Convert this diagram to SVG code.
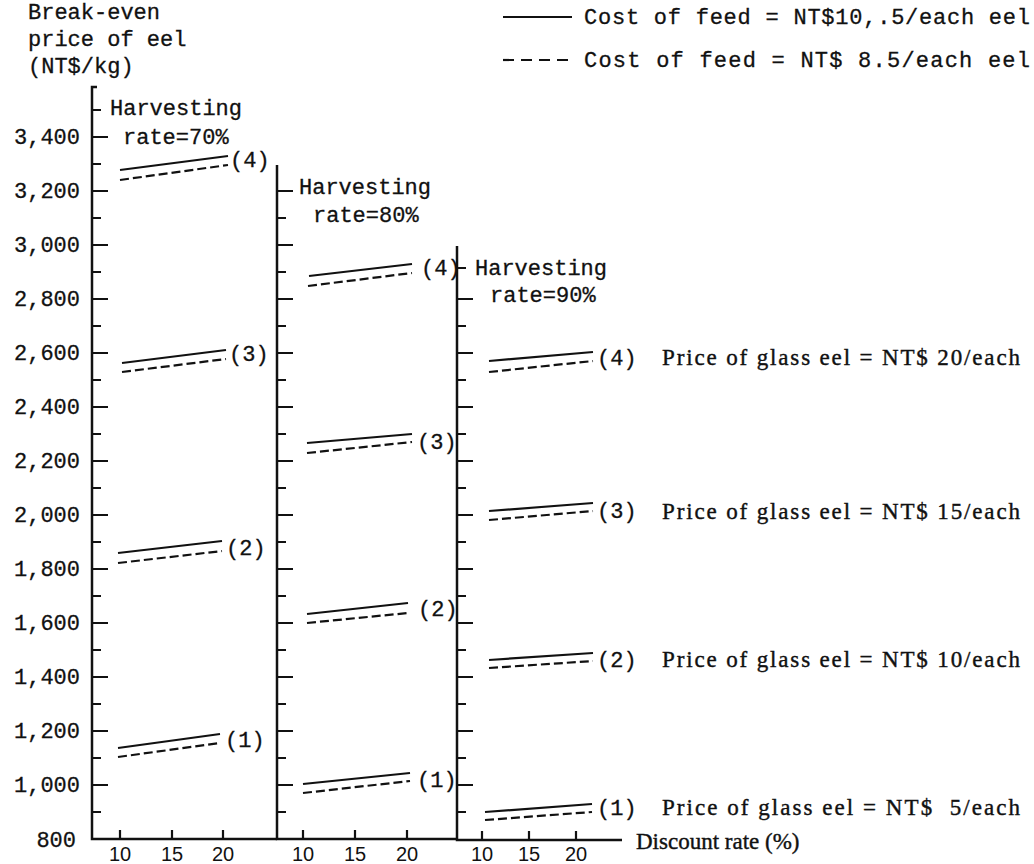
<svg xmlns="http://www.w3.org/2000/svg" width="1034" height="864" viewBox="0 0 1034 864">
<style>
.mono{font-family:"Liberation Mono","DejaVu Sans Mono",monospace;font-size:22px;fill:#111;stroke:#111;stroke-width:0.3}
.ser{font-family:"Liberation Serif","DejaVu Serif",serif;font-size:23px;fill:#111;stroke:#111;stroke-width:0.4}
.sans{font-family:"Liberation Sans","DejaVu Sans",sans-serif;font-size:20px;fill:#111;text-anchor:middle}
.ax{stroke:#111;stroke-width:2.5;fill:none}
.tk{stroke:#111;stroke-width:2.2;fill:none}
.sol{stroke:#111;stroke-width:2.2;fill:none}
.dsh{stroke:#111;stroke-width:2.2;fill:none;stroke-dasharray:9 4}
.yl{text-anchor:end}
</style>
<rect width="1034" height="864" fill="#fff"/>
<g id="title">
<text class="mono" x="28" y="19">Break-even</text>
<text class="mono" x="28" y="46">price of eel</text>
<text class="mono" x="28" y="73">(NT$/kg)</text>
</g>
<g id="legend">
<line class="sol" x1="503" y1="17" x2="572" y2="17"/>
<text class="mono" x="584" y="24" textLength="446" lengthAdjust="spacing">Cost of feed = NT$10,.5/each eel</text>
<line class="dsh" x1="503" y1="60" x2="572" y2="60" style="stroke-dasharray:11 7"/>
<text class="mono" x="584" y="67" textLength="446" lengthAdjust="spacing">Cost of feed = NT$ 8.5/each eel</text>
</g>
<g id="yaxis-labels">
<text class="mono yl" x="80" y="144">3,400</text>
<text class="mono yl" x="80" y="198">3,200</text>
<text class="mono yl" x="80" y="252">3,000</text>
<text class="mono yl" x="80" y="306">2,800</text>
<text class="mono yl" x="80" y="360">2,600</text>
<text class="mono yl" x="80" y="414">2,400</text>
<text class="mono yl" x="80" y="468">2,200</text>
<text class="mono yl" x="80" y="522">2,000</text>
<text class="mono yl" x="80" y="576">1,800</text>
<text class="mono yl" x="80" y="630">1,600</text>
<text class="mono yl" x="80" y="684">1,400</text>
<text class="mono yl" x="80" y="738">1,200</text>
<text class="mono yl" x="80" y="792">1,000</text>
<text class="mono yl" x="76" y="847">800</text>
</g>
<g id="panel-70">
<path class="ax" d="M97,87 H92 V839 H277"/>
<path class="tk" d="M92,110h9 M92,137h16 M92,164h9 M92,191h16 M92,218h9 M92,245h16 M92,272h9 M92,299h16 M92,326h9 M92,353h16 M92,380h9 M92,407h16 M92,434h9 M92,461h16 M92,488h9 M92,515h16 M92,542h9 M92,569h16 M92,596h9 M92,623h16 M92,650h9 M92,677h16 M92,704h9 M92,731h16 M92,758h9 M92,785h16 M92,812h9"/>
<path class="tk" d="M120,839v-9 M172,839v-9 M223,839v-9"/>
<text class="mono" x="110" y="115">Harvesting</text>
<text class="mono" x="123" y="144">rate=70%</text>
<text class="sans" x="120" y="861">10</text>
<text class="sans" x="172" y="861">15</text>
<text class="sans" x="223" y="861">20</text>
</g>
<g id="panel-80">
<path class="ax" d="M277,165 V839 H457"/>
<path class="tk" d="M277,191h16 M277,218h9 M277,245h16 M277,272h9 M277,299h16 M277,326h9 M277,353h16 M277,380h9 M277,407h16 M277,434h9 M277,461h16 M277,488h9 M277,515h16 M277,542h9 M277,569h16 M277,596h9 M277,623h16 M277,650h9 M277,677h16 M277,704h9 M277,731h16 M277,758h9 M277,785h16 M277,812h9"/>
<path class="tk" d="M303,839v-9 M355,839v-9 M407,839v-9"/>
<text class="mono" x="299" y="194">Harvesting</text>
<text class="mono" x="313" y="222">rate=80%</text>
<text class="sans" x="303" y="861">10</text>
<text class="sans" x="355" y="861">15</text>
<text class="sans" x="407" y="861">20</text>
</g>
<g id="panel-90">
<path class="ax" d="M457,246 V840 H622"/>
<path class="tk" d="M457,268h9 M457,299h16 M457,326h9 M457,353h16 M457,380h9 M457,407h16 M457,434h9 M457,461h16 M457,488h9 M457,515h16 M457,542h9 M457,569h16 M457,596h9 M457,623h16 M457,650h9 M457,677h16 M457,704h9 M457,731h16 M457,758h9 M457,785h16 M457,812h9"/>
<path class="tk" d="M482,840v-9 M529,840v-9 M576,840v-9"/>
<text class="mono" x="475" y="275">Harvesting</text>
<text class="mono" x="490" y="302">rate=90%</text>
<text class="sans" x="482" y="861">10</text>
<text class="sans" x="529" y="861">15</text>
<text class="sans" x="576" y="861">20</text>
</g>
<g id="connectors">
<line class="sol" x1="120" y1="170" x2="228" y2="156"/>
<line class="dsh" x1="120" y1="180" x2="228" y2="165"/>
<line class="sol" x1="122" y1="363" x2="226" y2="350"/>
<line class="dsh" x1="122" y1="372" x2="226" y2="359"/>
<line class="sol" x1="118" y1="553" x2="222" y2="541"/>
<line class="dsh" x1="118" y1="563" x2="222" y2="551"/>
<line class="sol" x1="118" y1="748" x2="220" y2="734"/>
<line class="dsh" x1="118" y1="757" x2="220" y2="743"/>
<line class="sol" x1="309" y1="276" x2="412" y2="264"/>
<line class="dsh" x1="308" y1="286" x2="412" y2="273"/>
<line class="sol" x1="307" y1="443" x2="412" y2="434"/>
<line class="dsh" x1="307" y1="453" x2="412" y2="442"/>
<line class="sol" x1="307" y1="614" x2="408" y2="603"/>
<line class="dsh" x1="307" y1="623" x2="408" y2="613"/>
<line class="sol" x1="303" y1="784" x2="410" y2="773"/>
<line class="dsh" x1="303" y1="793" x2="410" y2="781"/>
<line class="sol" x1="489" y1="361" x2="593" y2="352"/>
<line class="dsh" x1="489" y1="372" x2="593" y2="361"/>
<line class="sol" x1="489" y1="511" x2="593" y2="503"/>
<line class="dsh" x1="489" y1="520" x2="593" y2="511"/>
<line class="sol" x1="489" y1="660" x2="593" y2="653"/>
<line class="dsh" x1="489" y1="668" x2="593" y2="661"/>
<line class="sol" x1="485" y1="812" x2="592" y2="804"/>
<line class="dsh" x1="485" y1="820" x2="592" y2="812"/>
</g>
<g id="curve-labels">
<text class="mono" x="230" y="167">(4)</text>
<text class="mono" x="229" y="361">(3)</text>
<text class="mono" x="226" y="555">(2)</text>
<text class="mono" x="225" y="747">(1)</text>
<text class="mono" x="421" y="275">(4)</text>
<text class="mono" x="417" y="449">(3)</text>
<text class="mono" x="418" y="616">(2)</text>
<text class="mono" x="417" y="787">(1)</text>
<text class="mono" x="597" y="365">(4)</text>
<text class="mono" x="597" y="518">(3)</text>
<text class="mono" x="597" y="667">(2)</text>
<text class="mono" x="597" y="815">(1)</text>
</g>
<g id="price-labels">
<text class="ser" x="662" y="365" textLength="358" lengthAdjust="spacing">Price of glass eel = NT$ 20/each</text>
<text class="ser" x="662" y="519" textLength="358" lengthAdjust="spacing">Price of glass eel = NT$ 15/each</text>
<text class="ser" x="662" y="667" textLength="358" lengthAdjust="spacing">Price of glass eel = NT$ 10/each</text>
<text class="ser" x="662" y="815" textLength="358" lengthAdjust="spacing" xml:space="preserve">Price of glass eel = NT$  5/each</text>
<text class="ser" x="636" y="849">Discount rate (%)</text>
</g>
</svg>
